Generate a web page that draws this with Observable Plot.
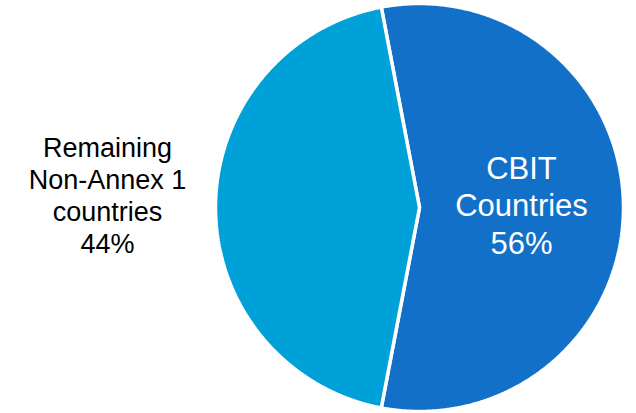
<!DOCTYPE html>
<html>
<head>
<meta charset="utf-8">
<script src="https://cdn.jsdelivr.net/npm/d3@7"></script>
<script src="https://cdn.jsdelivr.net/npm/@observablehq/plot@0.6"></script>
<style>
  html, body { margin: 0; padding: 0; background: #fff; }
  #chart svg { display: block; }
</style>
</head>
<body>
<div id="chart"></div>
<script>
const categories = ["CBIT\nCountries", "Remaining\nNon-Annex 1\ncountries"];
const shares = [56, 44];
const colors = ["#1270C8", "#00A0D9"];
const textColors = ["#ffffff", "#000000"];

// CBIT slice centred on 3 o'clock
const total = d3.sum(shares);
const start = Math.PI / 2 - Math.PI * shares[0] / total;
const arcs = d3.pie().sort(null).startAngle(start).endAngle(start + 2 * Math.PI)(shares);

const pts = [];
arcs.forEach((a, i) => {
  pts.push({slice: i, x: 0, y: 0});
  const n = Math.ceil((a.endAngle - a.startAngle) / 0.005);
  for (let k = 0; k <= n; k++) {
    const t = a.startAngle + (a.endAngle - a.startAngle) * k / n;
    pts.push({slice: i, x: Math.sin(t), y: Math.cos(t)});
  }
  pts.push({slice: i, x: 0, y: 0});
});

const labelRadius = [0.5, 1.5];
const labels = arcs.map((a, i) => {
  const m = (a.startAngle + a.endAngle) / 2;
  return {
    x: labelRadius[i] * Math.sin(m),
    y: labelRadius[i] * Math.cos(m),
    text: categories[i] + "\n" + shares[i] + "%",
    i
  };
});

const plot = Plot.plot({
  width: 636,
  height: 413,
  margin: 0,
  x: {domain: [-1, 1], range: [215, 623], axis: null},
  y: {domain: [-1, 1], range: [411, 3], axis: null},
  style: {background: "#fff", fontFamily: "'Liberation Sans', Arial, sans-serif"},
  marks: [
    Plot.line(pts, {
      x: "x", y: "y", z: "slice",
      fill: d => colors[d.slice],
      stroke: "#fff", strokeWidth: 3.5, strokeLinejoin: "miter", curve: "linear"
    }),
    Plot.text(labels.filter(d => d.i === 0), {
      x: "x", y: "y", text: "text",
      fill: textColors[0], fontSize: 31, lineHeight: 1.2, dy: -3,
      fontFamily: "'Liberation Sans', Arial, sans-serif"
    }),
    Plot.text(labels.filter(d => d.i === 1), {
      x: "x", y: "y", text: "text",
      fill: textColors[1], fontSize: 27, lineHeight: 1.19, dy: -13, dx: -6,
      fontFamily: "'Liberation Sans', Arial, sans-serif"
    })
  ]
});
document.getElementById("chart").appendChild(plot);
</script>
</body>
</html>
